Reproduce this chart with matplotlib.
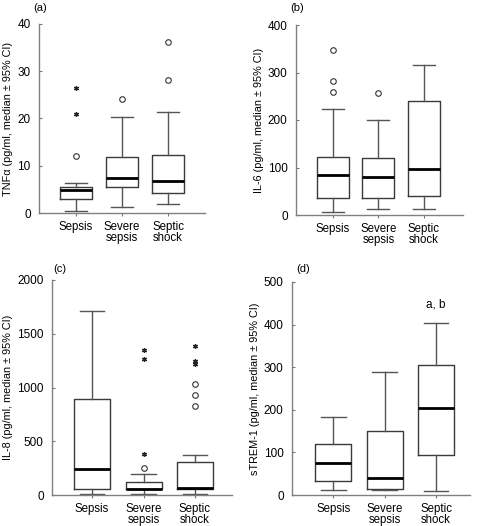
import matplotlib
matplotlib.use("Agg")
import matplotlib.pyplot as plt

plt.rcParams['font.family'] = ['Liberation Sans', 'DejaVu Sans']

groups = ["Sepsis", "Severe\nsepsis", "Septic\nshock"]

# (a) TNF-alpha
a_lo = [0.4, 1.3, 1.9]
a_q1 = [3.0, 5.5, 4.3]
a_med = [4.9, 7.4, 6.8]
a_q3 = [5.6, 11.8, 12.2]
a_hi = [6.3, 20.3, 21.3]
a_circ_g = [1, 2, 3, 3]
a_circ_v = [12.1, 24.1, 28.2, 36.2]
a_star_g = [1, 1]
a_star_v = [20.9, 26.5]

# (b) IL-6
b_lo = [5.6, 12.6, 12.6]
b_q1 = [35, 35, 39]
b_med = [85, 79, 97]
b_q3 = [123, 121, 239]
b_hi = [224, 201, 315]
b_circ_g = [1, 1, 1, 2]
b_circ_v = [258, 282, 348, 256]
b_star_g = []
b_star_v = []

# (c) IL-8
c_lo = [6, 6, 6]
c_q1 = [56, 56, 56]
c_med = [243, 59, 62]
c_q3 = [893, 124, 308]
c_hi = [1714, 196, 376]
c_circ_g = [2, 3, 3, 3]
c_circ_v = [252, 824, 930, 1036]
c_star_g = [2, 2, 2, 3, 3, 3]
c_star_v = [380, 1269, 1347, 1218, 1250, 1384]

# (d) sTREM-1
d_lo = [11, 12, 9]
d_q1 = [33, 13, 95]
d_med = [74, 41, 205]
d_q3 = [120, 150, 304]
d_hi = [184, 288, 404]
d_circ_g = []
d_circ_v = []
d_star_g = []
d_star_v = []

W, H = 479, 526
fig = plt.figure(figsize=(W / 100, H / 100), dpi=100)


def rect(l, r, t, b):
    return [l / W, 1 - b / H, (r - l) / W, (b - t) / H]


panels = [
    dict(rect=rect(39, 205, 24, 213), lo=a_lo, q1=a_q1, med=a_med, q3=a_q3, hi=a_hi,
         cg=a_circ_g, cv=a_circ_v, sg=a_star_g, sv=a_star_v, ymax=40, yt=[0, 10, 20, 30, 40],
         ylabel="TNFα (pg/ml, median ± 95% CI)", tag="(a)", tagpos=(33, 8), xl=(0.2, 3.8)),
    dict(rect=rect(296, 463, 25, 215), lo=b_lo, q1=b_q1, med=b_med, q3=b_q3, hi=b_hi,
         cg=b_circ_g, cv=b_circ_v, sg=b_star_g, sv=b_star_v, ymax=400, yt=[0, 100, 200, 300, 400],
         ylabel="IL-6 (pg/ml, median ± 95% CI)", tag="(b)", tagpos=(290, 8), xl=(0.19, 3.86)),
    dict(rect=rect(52, 232, 280, 495), lo=c_lo, q1=c_q1, med=c_med, q3=c_q3, hi=c_hi,
         cg=c_circ_g, cv=c_circ_v, sg=c_star_g, sv=c_star_v, ymax=2000, yt=[0, 500, 1000, 1500, 2000],
         ylabel="IL-8 (pg/ml, median ± 95% CI)", tag="(c)", tagpos=(53, 269), xl=(0.22, 3.72)),
    dict(rect=rect(292, 470, 282, 495), lo=d_lo, q1=d_q1, med=d_med, q3=d_q3, hi=d_hi,
         cg=d_circ_g, cv=d_circ_v, sg=d_star_g, sv=d_star_v, ymax=500, yt=[0, 100, 200, 300, 400, 500],
         ylabel="sTREM-1 (pg/ml, median ± 95% CI)", tag="(d)", tagpos=(296, 269), xl=(0.2, 3.66)),
]

edge = "#3a3a3a"
for i, p in enumerate(panels):
    ax = fig.add_axes(p["rect"])
    stats = []
    for k in range(3):
        stats.append(dict(med=p["med"][k], q1=p["q1"][k], q3=p["q3"][k],
                          whislo=p["lo"][k], whishi=p["hi"][k], fliers=[]))
    ax.bxp(stats, positions=[1, 2, 3], widths=0.7, capwidths=0.48, showfliers=False,
           patch_artist=False,
           boxprops=dict(color=edge, linewidth=1.0),
           whiskerprops=dict(color="#555555", linewidth=1.0),
           capprops=dict(color="#555555", linewidth=1.0),
           medianprops=dict(color="black", linewidth=2.0))
    if p["cv"]:
        ax.plot(p["cg"], p["cv"], linestyle="none", marker="o", markersize=4.0,
                markerfacecolor="white", markeredgecolor="#333333", markeredgewidth=0.8)
    if p["sv"]:
        ax.plot(p["sg"], p["sv"], linestyle="none", marker=(6, 2, 0), markersize=3.6,
                color="#222222", markeredgewidth=0.9)
    ax.set_xlim(*p["xl"])
    ax.set_ylim(0, p["ymax"])
    ax.set_yticks(p["yt"])
    ax.set_xticks([1, 2, 3])
    ax.set_xticklabels(groups, fontsize=8.3, linespacing=0.92)
    ax.tick_params(axis="y", length=2, direction="in", color="#777777", labelsize=8.5, pad=6)
    ax.tick_params(axis="x", length=2.5, direction="out", color="#777777", pad=3)
    for s in ("top", "right"):
        ax.spines[s].set_visible(False)
    for s in ("left", "bottom"):
        ax.spines[s].set_color("#808080")
        ax.spines[s].set_linewidth(1.0)
    ax.set_ylabel(p["ylabel"], fontsize=7.8, labelpad=3)
    fig.text(p["tagpos"][0] / W, 1 - p["tagpos"][1] / H, p["tag"], fontsize=8,
             ha="left", va="center")
    if i == 3:
        ax.text(3, 448, "a, b", ha="center", va="center", fontsize=8.5)

fig.savefig("out.png", dpi=100)
